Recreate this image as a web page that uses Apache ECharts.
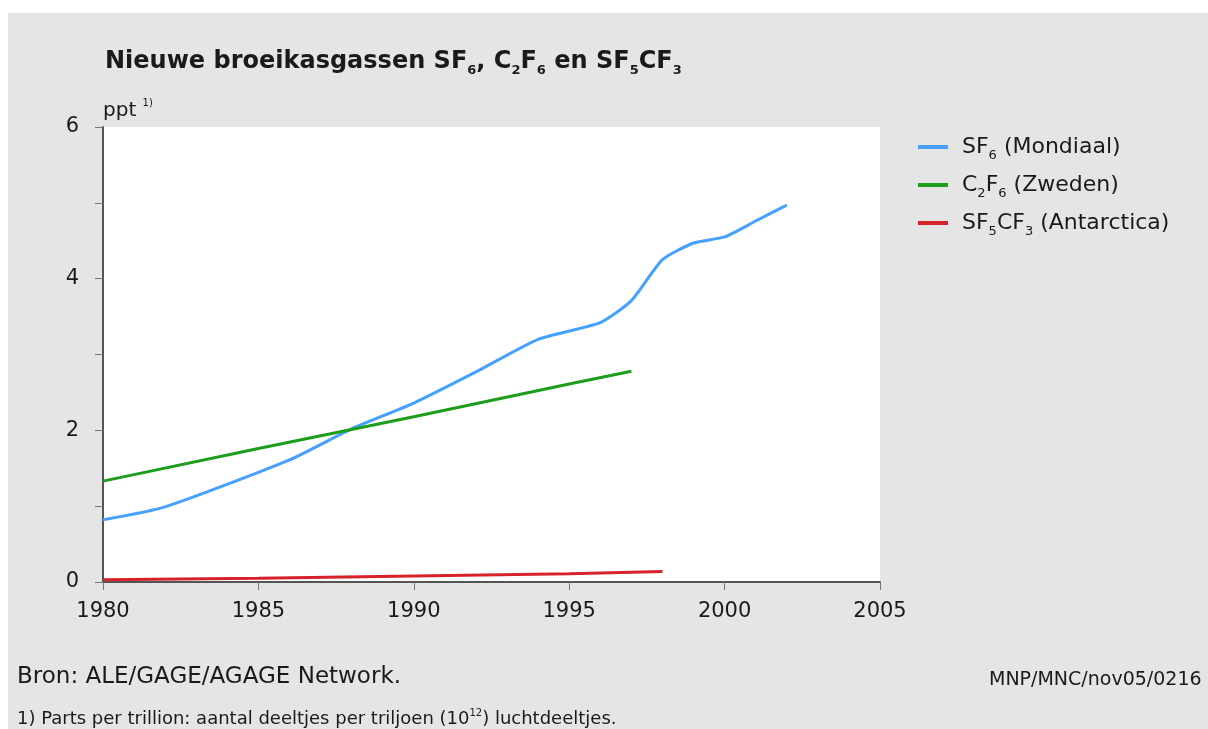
<!DOCTYPE html>
<html>
<head>
<meta charset="utf-8">
<script src="https://cdn.jsdelivr.net/npm/echarts@6/dist/echarts.min.js"></script>
<style>
  html, body { margin: 0; padding: 0; background: #fff; }
  #bg { position: absolute; left: 8px; top: 13px; width: 1200px; height: 716px; background: #e5e5e5; }
  #main { position: absolute; left: 0; top: 0; width: 1208px; height: 729px; }
</style>
</head>
<body>
<div id="bg"></div>
<div id="main"></div>
<script>
// readings from the picture, [year, ppt]
const sf6 = [
  [1980, 0.82], [1982, 0.99], [1986, 1.61], [1988, 2.02], [1990, 2.36],
  [1992, 2.77], [1994, 3.20], [1996, 3.42], [1997, 3.71], [1998, 4.25],
  [1999, 4.47], [2000, 4.55], [2001, 4.76], [2002, 4.97]
];
const c2f6 = [[1980, 1.33], [1985, 1.76], [1990, 2.18], [1995, 2.61], [1997, 2.78]];
const sf5cf3 = [[1980, 0.03], [1985, 0.05], [1990, 0.08], [1995, 0.11], [1998, 0.14]];

const seriesNames = ['SF6 (Mondiaal)', 'C2F6 (Zweden)', 'SF5CF3 (Antarctica)'];
const legendRich = {
  'SF6 (Mondiaal)': '{g|}{n|SF}{s|6}{n| (Mondiaal)}',
  'C2F6 (Zweden)': '{g|}{n|C}{s|2}{n|F}{s|6}{n| (Zweden)}',
  'SF5CF3 (Antarctica)': '{g|}{n|SF}{s|5}{n|CF}{s|3}{n| (Antarctica)}'
};
const colors = ['#45a0ff', '#1c9e1c', '#d8222a'];
const yTickLabels = ['0', '2', '4', '6'];

const font = '"DejaVu Sans", "Liberation Sans", sans-serif';
const ink = '#1a1a1a';

let ec = echarts.init(document.getElementById('main'), null, { renderer: 'canvas' });

let op = {
  backgroundColor: 'transparent',
  animation: false,
  textStyle: { fontFamily: font },
  title: [
    {
      // main title with subscripts
      text: '{t|Nieuwe broeikasgassen SF}{s|6}{t|, C}{s|2}{t|F}{s|6}{t| en SF}{s|5}{t|CF}{s|3}',
      left: 100, top: 42,
      textStyle: {
        rich: {
          t: { fontFamily: font, fontSize: 24, fontWeight: 'bold', color: ink, lineHeight: 30 },
          s: { fontFamily: font, fontSize: 13, fontWeight: 'bold', color: ink, verticalAlign: 'bottom', lineHeight: 30 }
        }
      }
    },
    {
      text: '{u|ppt }{p|1)}',
      left: 98, top: 93,
      textStyle: {
        fontWeight: 'normal',
        rich: {
          u: { fontFamily: font, fontSize: 20, fontWeight: 'normal', color: ink, lineHeight: 26 },
          p: { fontFamily: font, fontSize: 10, fontWeight: 'normal', color: ink, verticalAlign: 'top', lineHeight: 26 }
        }
      }
    },
    {
      text: 'Bron: ALE/GAGE/AGAGE Network.',
      left: 12, top: 661,
      textStyle: { fontFamily: font, fontSize: 23, fontWeight: 'normal', color: ink }
    },
    {
      text: 'MNP/MNC/nov05/0216',
      left: 984, top: 666,
      textStyle: { fontFamily: font, fontSize: 19, fontWeight: 'normal', color: ink }
    },
    {
      text: '{f|1) Parts per trillion: aantal deeltjes per triljoen (10}{e|12}{f|) luchtdeeltjes.}',
      left: 12, top: 703,
      textStyle: {
        fontWeight: 'normal',
        rich: {
          f: { fontFamily: font, fontSize: 18, fontWeight: 'normal', color: ink, lineHeight: 22 },
          e: { fontFamily: font, fontSize: 10, fontWeight: 'normal', color: ink, verticalAlign: 'top', lineHeight: 22 }
        }
      }
    }
  ],
  legend: {
    orient: 'vertical',
    left: 913, top: 131,
    itemWidth: 30, itemHeight: 4,
    itemGap: 12,
    icon: 'rect',
    data: seriesNames,
    formatter: name => legendRich[name],
    textStyle: {
      rich: {
        g: { width: 9 },
        n: { fontFamily: font, fontSize: 22, color: ink, lineHeight: 30 },
        s: { fontFamily: font, fontSize: 13, color: ink, verticalAlign: 'bottom', lineHeight: 30 }
      }
    }
  },
  grid: {
    left: 103, right: 328, top: 127, bottom: 147,
    show: true, backgroundColor: '#fff', borderWidth: 0,
    containLabel: false
  },
  xAxis: {
    type: 'value',
    min: 1980, max: 2005, interval: 5,
    axisLine: { show: true, onZero: false, lineStyle: { color: '#555', width: 2 } },
    axisTick: { show: true, inside: false, length: 8, lineStyle: { color: '#777' } },
    axisLabel: { fontFamily: font, fontSize: 21, color: ink, margin: 19, formatter: v => String(v) },
    splitLine: { show: false }
  },
  yAxis: {
    type: 'value',
    min: 0, max: 6, interval: 1,
    axisLine: { show: true, onZero: false, lineStyle: { color: '#555', width: 2 } },
    axisTick: { show: true, inside: false, length: 8, lineStyle: { color: '#777' } },
    axisLabel: {
      fontFamily: font, fontSize: 21, color: ink, margin: 24,
      formatter: v => yTickLabels.includes(String(v)) ? String(v) : ''
    },
    splitLine: { show: false }
  },
  series: [
    { name: seriesNames[0], type: 'line', data: sf6, showSymbol: false, smooth: 0.2,
      color: colors[0], lineStyle: { width: 3 } },
    { name: seriesNames[1], type: 'line', data: c2f6, showSymbol: false,
      color: colors[1], lineStyle: { width: 3 } },
    { name: seriesNames[2], type: 'line', data: sf5cf3, showSymbol: false,
      color: colors[2], lineStyle: { width: 3 } }
  ]
};

ec.setOption(op);
</script>
</body>
</html>
